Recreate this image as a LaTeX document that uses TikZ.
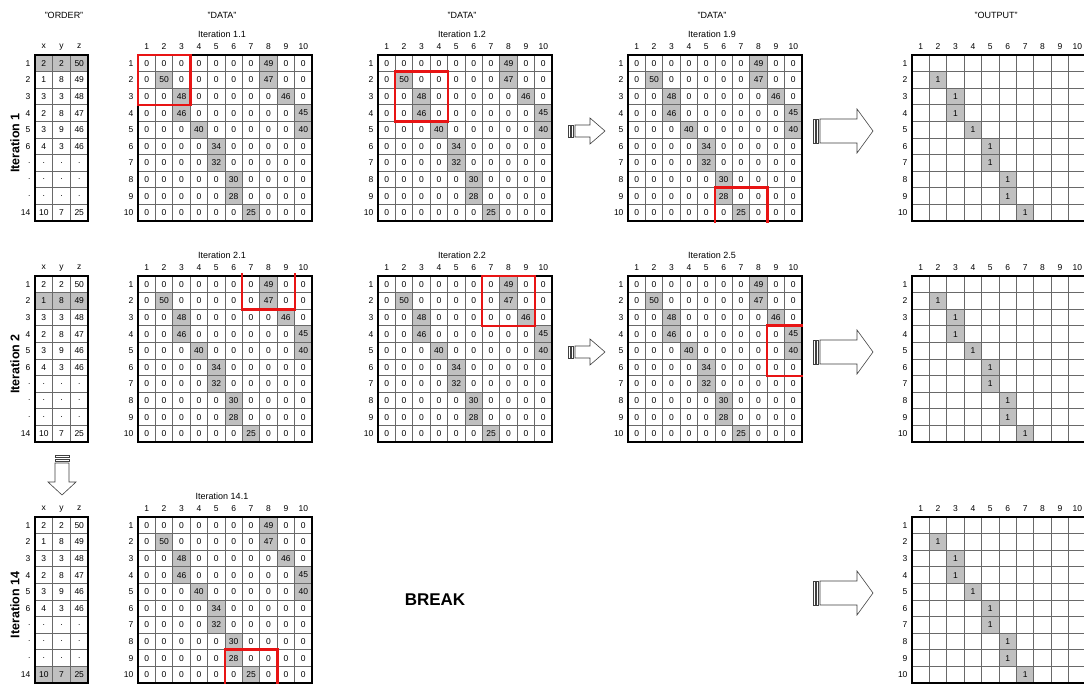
\documentclass[tikz,border=0pt]{standalone}
\usepackage{fontspec}
\setmainfont{Liberation Sans}
\usetikzlibrary{positioning}

\definecolor{cellgray}{RGB}{192,192,192}
\definecolor{linegray}{RGB}{105,105,105}
\definecolor{boxred}{RGB}{232,20,20}

\tikzset{
  cell/.style={inner sep=0pt, minimum width=17.4pt, minimum height=16.6pt, font=\fontsize{8.5}{10}\selectfont},
  hit/.style={cell, fill=cellgray},
  lbl/.style={inner sep=0pt, font=\fontsize{8.5}{10}\selectfont},
  ttl/.style={inner sep=0pt, font=\fontsize{9}{10}\selectfont},
  innerline/.style={linegray, line width=0.8pt},
  frame/.style={black, line width=1.8pt},
  redbox/.style={boxred, line width=2.4pt},
  itlabel/.style={rotate=90, inner sep=0pt, font=\fontsize{12.5}{14}\selectfont\bfseries},
  hollow/.style={draw=black!75, fill=white, line width=0.6pt},
}

% non-zero entries of the data matrix (row/col/value)
\foreach \r/\c/\v in {1/8/49, 2/2/50, 2/8/47, 3/3/48, 3/9/46, 4/3/46, 4/10/45,
                      5/4/40, 5/10/40, 6/5/34, 7/5/32, 8/6/30, 9/6/28, 10/7/25}
  {\expandafter\xdef\csname cellv-\r-\c\endcsname{\v}}

% data matrix: left, top, name
\newcommand{\datagrid}[3]{%
  \begin{scope}[shift={(#1,#2)}, x=17.4pt, y=-16.6pt]
    \foreach \r in {1,...,10}{
      \node[lbl, anchor=east] (#3-row\r) at (-0.25,\r-0.5) {\r};
      \node[lbl] (#3-col\r) at (\r-0.5,-0.5) {\r};
      \foreach \c in {1,...,10}{
        \ifcsname cellv-\r-\c\endcsname
          \node[hit] (#3-\r-\c) at (\c-0.5,\r-0.5) {\csname cellv-\r-\c\endcsname};
        \else
          \node[cell] (#3-\r-\c) at (\c-0.5,\r-0.5) {0};
        \fi
      }
    }
    \foreach \i in {1,...,9}{
      \draw[innerline] (\i,0) -- (\i,10);
      \draw[innerline] (0,\i) -- (10,\i);
    }
    \draw[frame] (0,0) rectangle (10,10);
  \end{scope}}

% output matrix: left, top, name
\newcommand{\outgrid}[3]{%
  \begin{scope}[shift={(#1,#2)}, x=17.4pt, y=-16.6pt]
    \foreach \r/\c in {2/2, 3/3, 4/3, 5/4, 6/5, 7/5, 8/6, 9/6, 10/7}
      \node[hit] (#3-\r-\c) at (\c-0.5,\r-0.5) {1};
    \foreach \i in {1,...,10}{
      \node[lbl, anchor=east] (#3-row\i) at (-0.25,\i-0.5) {\i};
      \node[lbl] (#3-col\i) at (\i-0.5,-0.5) {\i};
    }
    \foreach \i in {1,...,9}{
      \draw[innerline] (\i,0) -- (\i,10);
      \draw[innerline] (0,\i) -- (10,\i);
    }
    \draw[frame] (0,0) rectangle (10,10);
  \end{scope}}

% order list: left, top, name, marked row
\newcommand{\ordertable}[4]{%
  \begin{scope}[shift={(#1,#2)}, x=17.7pt, y=-16.6pt]
    \fill[cellgray] (0,#4-1) rectangle (3,#4);
    \node[lbl] (#3-hx) at (0.5,-0.5) {x};
    \node[lbl] (#3-hy) at (1.5,-0.5) {y};
    \node[lbl] (#3-hz) at (2.5,-0.5) {z};
    \foreach \r/\n/\a/\b/\v in {1/1/2/2/50, 2/2/1/8/49, 3/3/3/3/48, 4/4/2/8/47, 5/5/3/9/46,
                                6/6/4/3/46, 7/./././., 8/./././., 9/./././., 10/14/10/7/25}{
      \node[lbl, anchor=east] (#3-row\r) at (-0.25,\r-0.5) {\n};
      \node[cell] (#3-x\r) at (0.5,\r-0.5) {\a};
      \node[cell] (#3-y\r) at (1.5,\r-0.5) {\b};
      \node[cell] (#3-z\r) at (2.5,\r-0.5) {\v};
    }
    \draw[innerline] (1,0) -- (1,10) (2,0) -- (2,10);
    \foreach \i in {1,...,9}
      \draw[innerline] (0,\i) -- (3,\i);
    \draw[frame] (0,0) rectangle (3,10);
  \end{scope}}

% striped right arrow: x0, y centre, head base, tip, body half, head half
\newcommand{\stripedarrow}[6]{%
  \draw[hollow] (#1,#2-#5) rectangle (#1+2,#2+#5);
  \draw[hollow] (#1+3.5,#2-#5) rectangle (#1+5.5,#2+#5);
  \draw[hollow] (#1+7,#2-#5) -- (#3,#2-#5) -- (#3,#2-#6) -- (#4,#2)
    -- (#3,#2+#6) -- (#3,#2+#5) -- (#1+7,#2+#5) -- cycle;}

\begin{document}
\begin{tikzpicture}[x=1pt, y=-1pt]
  \clip (0,0) rectangle (1084,684);
  \fill[white] (0,0) rectangle (1084,684);

  % titles
  \node[ttl] (order-title) at (64,15) {"ORDER"};
  \node[ttl] (data1-title) at (222,15) {"DATA"};
  \node[ttl] (data2-title) at (462,15) {"DATA"};
  \node[ttl] (data3-title) at (712,15) {"DATA"};
  \node[ttl] (out-title) at (996,15) {"OUTPUT"};

  % iteration 1
  \node[itlabel] (it1) at (15,143) {Iteration 1};
  \ordertable{35}{55}{t1}{1}
  \node[ttl] (g11-title) at (222,34) {Iteration 1.1};
  \datagrid{138}{55}{g11}
  \node[ttl] (g12-title) at (462,34) {Iteration 1.2};
  \datagrid{378}{55}{g12}
  \stripedarrow{568}{131}{590}{605}{6}{13}
  \node[ttl] (g19-title) at (712,34) {Iteration 1.9};
  \datagrid{628}{55}{g19}
  \stripedarrow{813}{131}{857}{873}{12}{22}
  \outgrid{912}{55}{o1}

  \draw[redbox] (g11-1-1.north west) rectangle (g11-3-3.south east);
  \draw[redbox] (g12-2-2.north west) rectangle (g12-4-4.south east);
  \draw[redbox] ([yshift=-2pt]g19-10-6.south west) |- (g19-9-8.north east)
    -- ([yshift=-2pt]g19-10-8.south east);

  % iteration 2
  \node[itlabel] (it2) at (15,364) {Iteration 2};
  \ordertable{35}{276}{t2}{2}
  \node[ttl] (g21-title) at (222,255) {Iteration 2.1};
  \datagrid{138}{276}{g21}
  \node[ttl] (g22-title) at (462,255) {Iteration 2.2};
  \datagrid{378}{276}{g22}
  \stripedarrow{568}{352}{590}{605}{6}{13}
  \node[ttl] (g25-title) at (712,255) {Iteration 2.5};
  \datagrid{628}{276}{g25}
  \stripedarrow{813}{352}{857}{873}{12}{22}
  \outgrid{912}{276}{o2}

  \draw[redbox] ([yshift=3pt]g21-1-7.north west) |- (g21-2-9.south east)
    -- ([yshift=3pt]g21-1-9.north east);
  \draw[redbox] (g22-1-7.north west) rectangle (g22-3-9.south east);
  \draw[redbox] ([xshift=1pt]g25-4-10.north east) -| (g25-6-9.south west)
    -- ([xshift=1pt]g25-6-10.south east);

  % down to iteration 14
  \draw[hollow] (55,455) rectangle (69,457);
  \draw[hollow] (55,459) rectangle (69,461);
  \draw[hollow] (55,463) -- (55,482) -- (48,482) -- (62,495) -- (76,482)
    -- (69,482) -- (69,463) -- cycle;

  % iteration 14
  \node[itlabel] (it14) at (15,605) {Iteration 14};
  \ordertable{35}{517}{t3}{10}
  \node[ttl] (g141-title) at (222,496) {Iteration 14.1};
  \datagrid{138}{517}{g141}
  \node[font=\fontsize{17}{20}\selectfont\bfseries] (break) at (435,600) {BREAK};
  \stripedarrow{813}{593}{857}{873}{12}{22}
  \outgrid{912}{517}{o3}

  \draw[redbox] ([yshift=-2pt]g141-10-6.south west) |- (g141-9-8.north east)
    -- ([yshift=-2pt]g141-10-8.south east);
\end{tikzpicture}
\end{document}
